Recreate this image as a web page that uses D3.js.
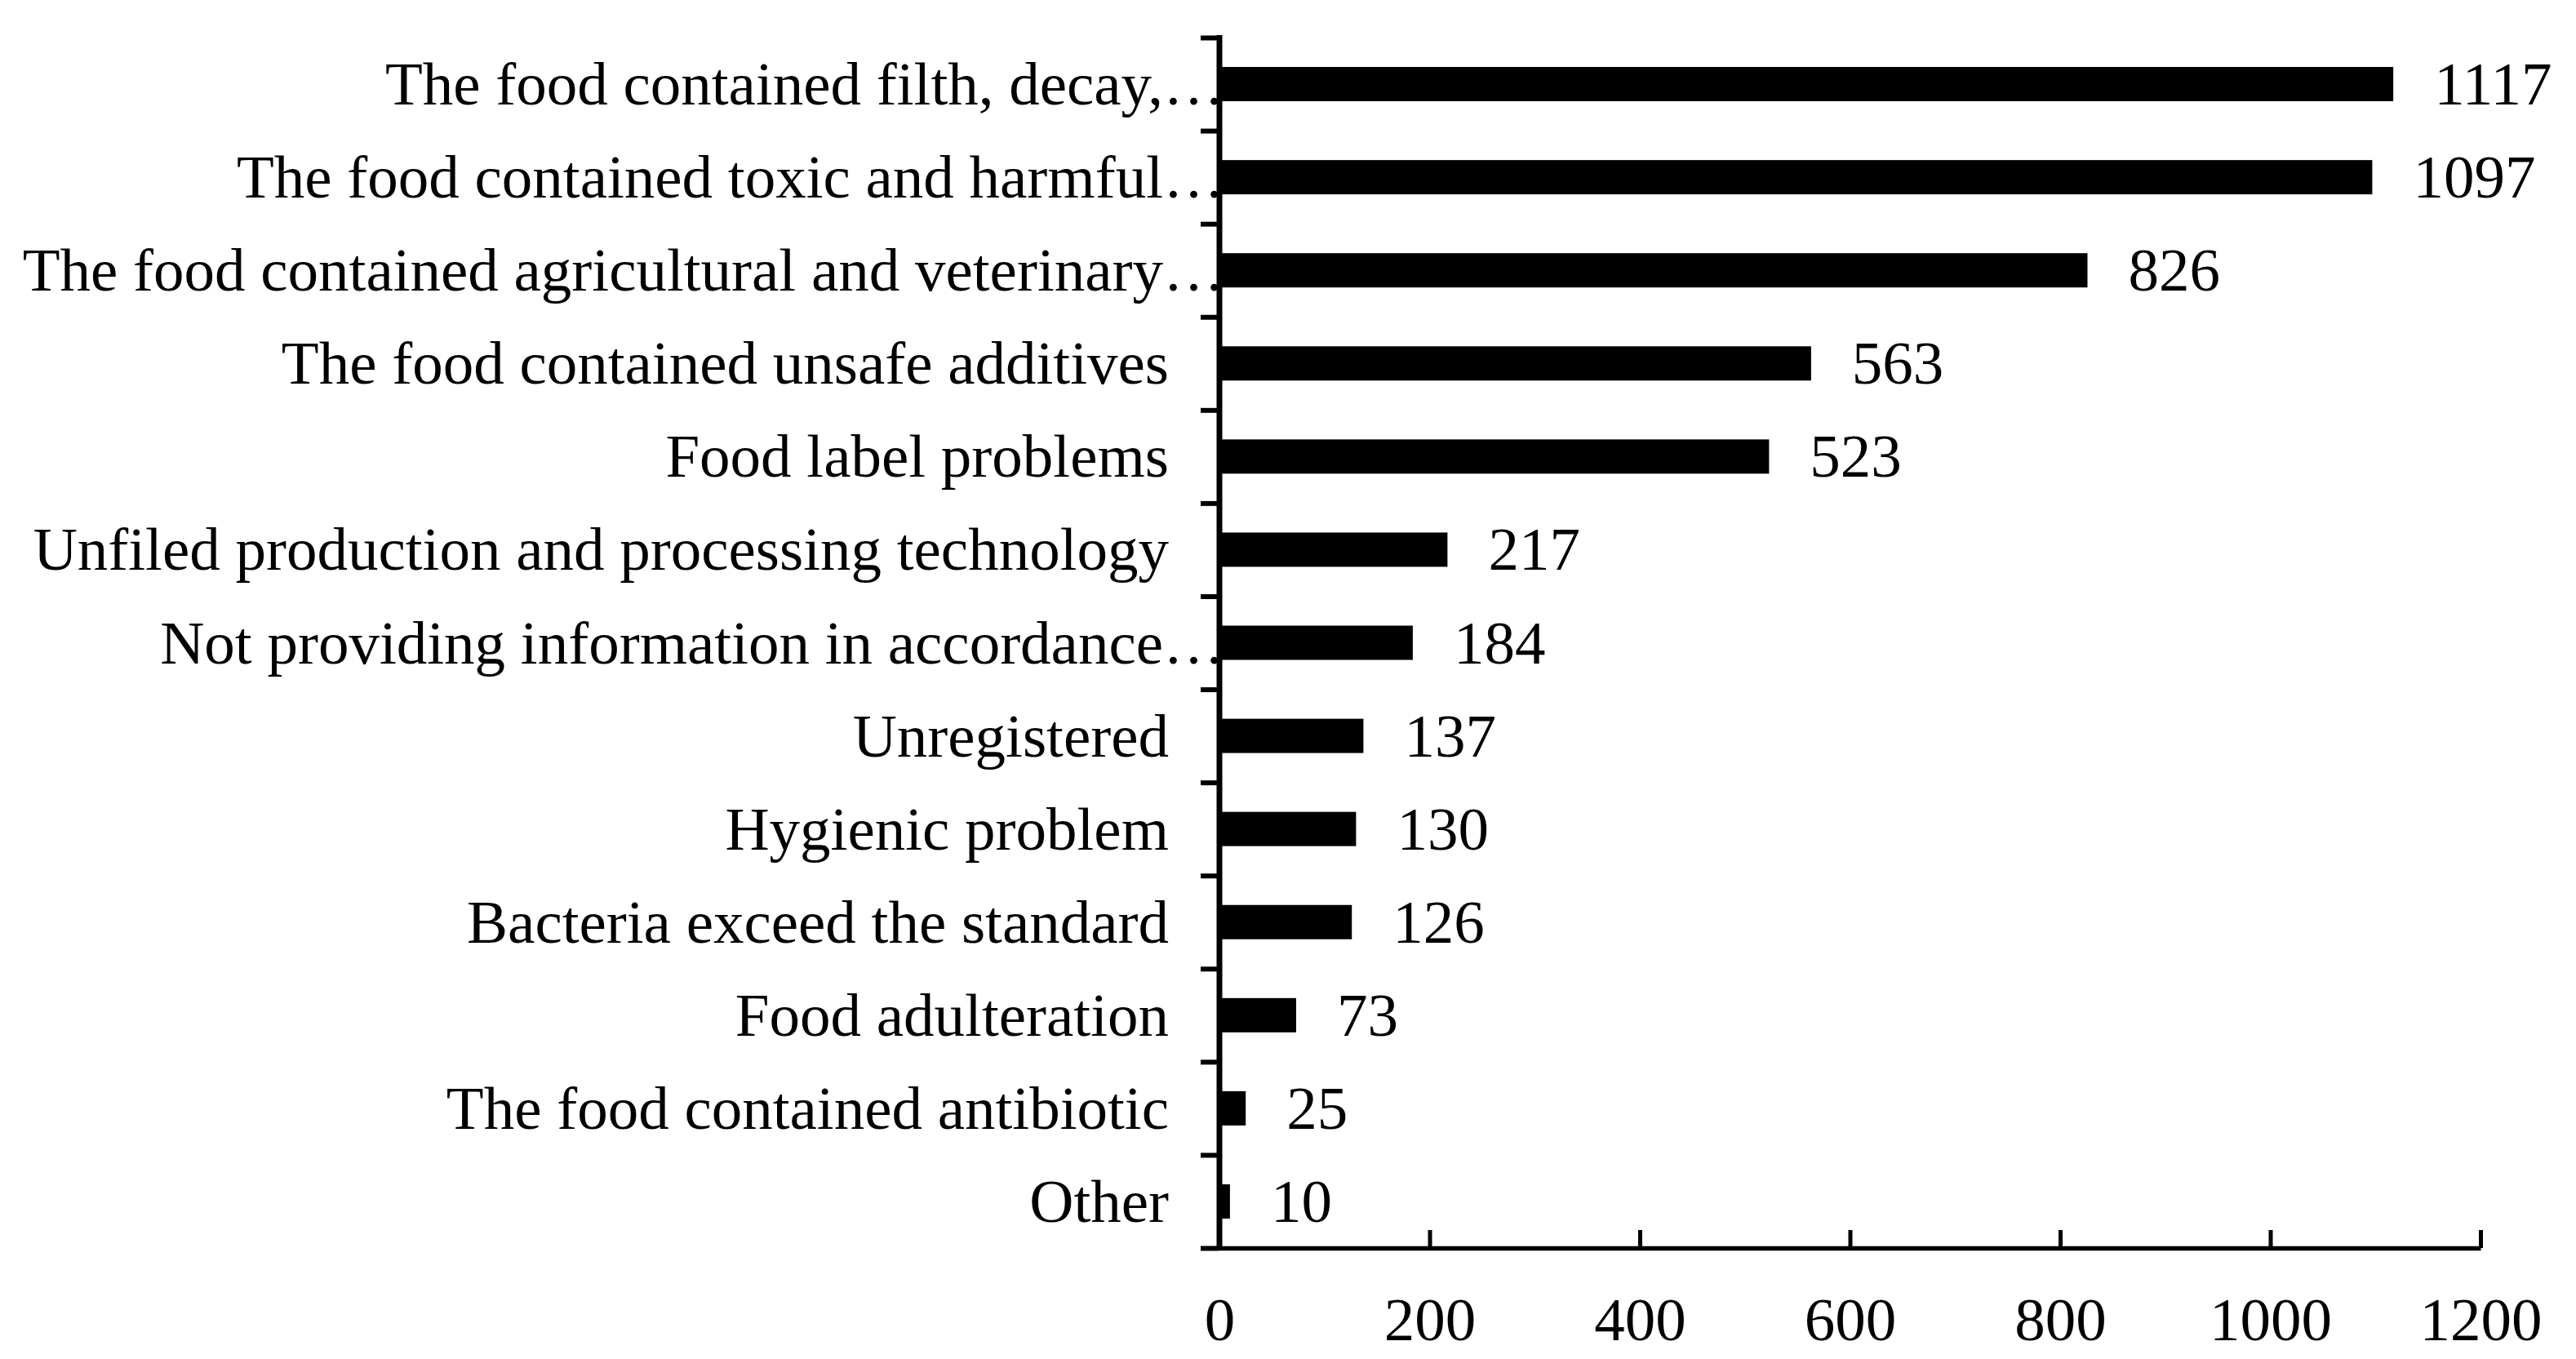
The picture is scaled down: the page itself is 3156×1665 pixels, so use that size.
<!DOCTYPE html>
<html>
<head>
<meta charset="utf-8">
<script src="https://cdn.jsdelivr.net/npm/d3@7"></script>
<style>
  html, body { margin: 0; padding: 0; background: #ffffff; }
  svg { display: block; }
  text { font-family: "Liberation Serif", "Times New Roman", serif; fill: #000; }
</style>
</head>
<body>
<svg id="chart" width="3156" height="1665"></svg>
<script>
// ---- data (top to bottom as shown) ----
const categories = [
  "The food contained filth, decay,\u2026",
  "The food contained toxic and harmful\u2026",
  "The food contained agricultural and veterinary\u2026",
  "The food contained unsafe additives",
  "Food label problems",
  "Unfiled production and processing technology",
  "Not providing information in accordance\u2026",
  "Unregistered",
  "Hygienic problem",
  "Bacteria exceed the standard",
  "Food adulteration",
  "The food contained antibiotic",
  "Other"
];
const values = [1117, 1097, 826, 563, 523, 217, 184, 137, 130, 126, 73, 25, 10];
const truncated = [true, true, true, false, false, false, true, false, false, false, false, false, false];
const xTicks = [0, 200, 400, 600, 800, 1000, 1200];

// ---- layout ----
const W = 3156, H = 1665;
const plotLeft = 1494, plotRight = 3039, plotTop = 46, plotBottom = 1529;
const fontSize = 75;

const svg = d3.select("#chart");

const x = d3.scaleLinear().domain([0, 1200]).range([plotLeft, plotRight]);
const y = d3.scaleBand().domain(categories).range([plotTop, plotBottom]).padding(0);
const yIdx = d3.scaleLinear().domain([0, categories.length]).range([plotTop, plotBottom]);
const barFrac = 0.368;
const barH = y.bandwidth() * barFrac;

// bars
svg.append("g").selectAll("rect")
  .data(categories)
  .join("rect")
  .attr("x", x(0))
  .attr("y", c => y(c) + (y.bandwidth() - barH) / 2)
  .attr("width", (c, i) => x(values[i]) - x(0))
  .attr("height", barH)
  .attr("fill", "#000");

// value labels
svg.append("g").selectAll("text")
  .data(categories)
  .join("text")
  .attr("x", (c, i) => x(values[i]) + 50)
  .attr("y", c => y(c) + y.bandwidth() / 2 + 25)
  .attr("font-size", fontSize)
  .text((c, i) => values[i]);

// category labels
svg.append("g").selectAll("text")
  .data(categories)
  .join("text")
  .attr("x", (c, i) => truncated[i] ? x(0) + 6 : x(0) - 62)
  .attr("y", c => y(c) + y.bandwidth() / 2 + 25)
  .attr("text-anchor", "end")
  .attr("font-size", fontSize)
  .text(c => c);

// y axis (ticks at category boundaries)
const yAxis = svg.append("g")
  .attr("transform", `translate(${x(0)},0)`)
  .call(d3.axisLeft(yIdx).tickValues(d3.range(categories.length + 1)).tickFormat("").tickSizeInner(23).tickSizeOuter(0));
yAxis.select(".domain").attr("stroke", "#000").attr("stroke-width", 7).attr("d", `M0,${plotTop - 3}V${plotBottom + 3}`);
yAxis.selectAll(".tick line").attr("stroke", "#000").attr("stroke-width", 6);

// x axis (ticks pointing up)
const xAxis = svg.append("g")
  .attr("transform", `translate(0,${plotBottom})`)
  .call(d3.axisBottom(x).tickValues(xTicks).tickFormat(d3.format("d")).tickSizeInner(-22).tickSizeOuter(0));
xAxis.select(".domain").attr("stroke", "#000").attr("stroke-width", 5.5);
xAxis.selectAll(".tick line").attr("stroke", "#000").attr("stroke-width", 5);
xAxis.selectAll(".tick text")
  .attr("y", 113)
  .attr("dy", null)
  .attr("font-size", fontSize)
  .attr("font-family", "\"Liberation Serif\", \"Times New Roman\", serif")
  .attr("fill", "#000");
</script>
</body>
</html>
